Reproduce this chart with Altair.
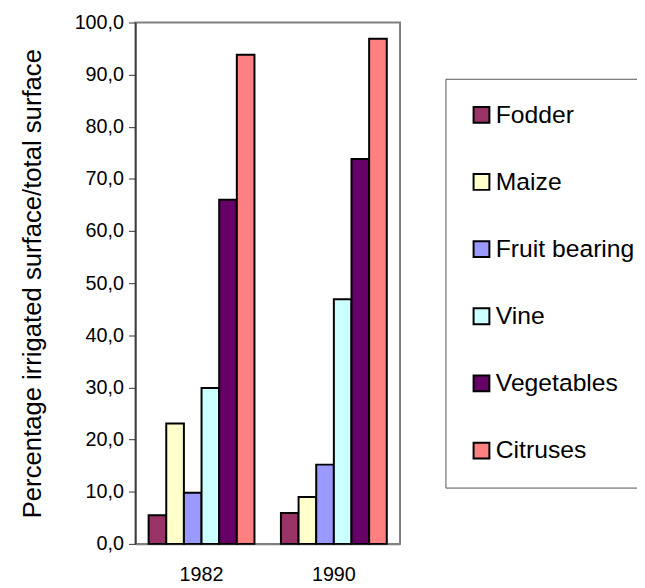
import altair as alt
import pandas as pd

years = ["1982", "1990"]
crops = ["Fodder", "Maize", "Fruit bearing", "Vine", "Vegetables", "Citruses"]
v1982 = [5.5, 23.1, 9.8, 29.9, 66.0, 93.8]
v1990 = [5.9, 9.0, 15.2, 46.9, 73.8, 96.9]
colors = ["#993366", "#FFFFCC", "#9999FF", "#CCFFFF", "#660066", "#FF8080"]

rows = []
for y, vals in zip(years, [v1982, v1990]):
    for i, (c, v) in enumerate(zip(crops, vals)):
        rows.append({"year": y, "crop": c, "value": v, "order": i})
df = pd.DataFrame(rows)

FONT = "Liberation Sans"

chart = alt.Chart(df).mark_bar(stroke="black", strokeWidth=2).encode(
    x=alt.X("year:N", sort=years,
            scale=alt.Scale(paddingInner=0.2, paddingOuter=0.1),
            axis=alt.Axis(title=None, labelAngle=0, ticks=False, labelPadding=21,
                          labelFontSize=20, labelColor="black", labelFont=FONT,
                          domainColor="#808080", domainWidth=2)),
    xOffset=alt.XOffset("crop:N", sort=crops, scale=alt.Scale(paddingInner=0, paddingOuter=0)),
    y=alt.Y("value:Q",
            scale=alt.Scale(domain=[0, 100], nice=False),
            axis=alt.Axis(title="Percentage irrigated  surface/total surface",
                          values=list(range(0, 101, 10)),
                          labelExpr="replace(format(datum.value, '.1f'), '.', ',')",
                          grid=False, tickSize=7, tickColor="#333333", tickWidth=1,
                          domainColor="#333333", domainWidth=1.5,
                          labelFontSize=20, labelColor="black", labelFont=FONT,
                          labelPadding=5,
                          titleFontSize=26, titleFontWeight="normal", titleColor="black",
                          titleFont=FONT, titlePadding=29)),
    color=alt.Color("crop:N", sort=crops,
                    scale=alt.Scale(domain=crops, range=colors),
                    legend=alt.Legend(title=None, orient="none", legendX=314, legendY=57,
                                      symbolType="square", symbolSize=256,
                                      symbolStrokeColor="black", symbolStrokeWidth=2,
                                      labelFontSize=25, labelColor="black", labelFont=FONT,
                                      labelOffset=2, rowPadding=42, padding=24,
                                      strokeColor="#555555", labelLimit=300)),
).properties(
    width=268, height=528,
    autosize=alt.AutoSizeParams(type="none"),
    padding={"left": 129, "top": 11, "right": 240, "bottom": 40},
).configure_view(stroke="#808080", strokeWidth=2)

chart.save("out.html", embed_options={"renderer": "svg", "actions": False})
